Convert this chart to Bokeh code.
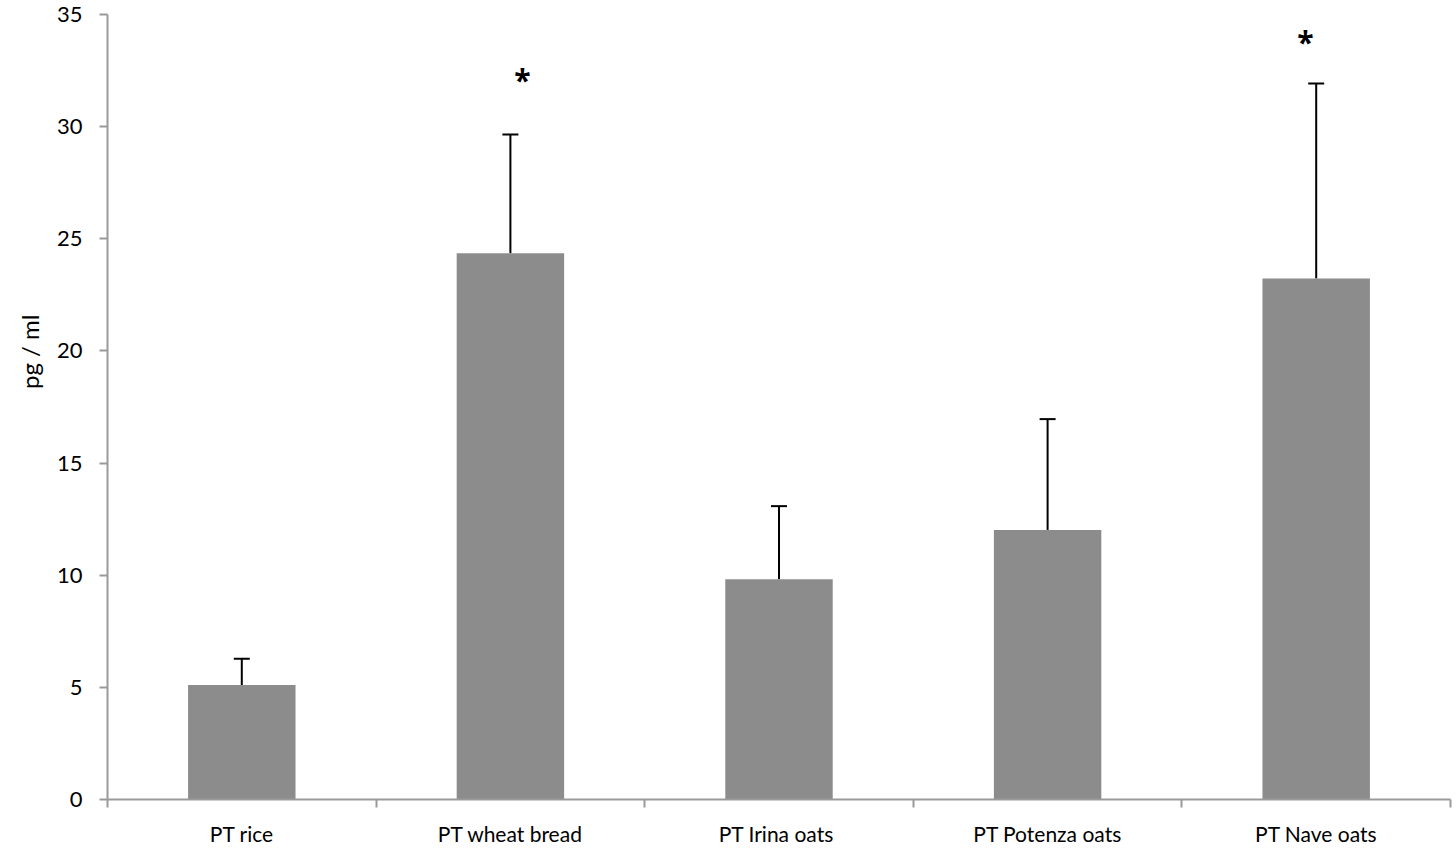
from bokeh.plotting import figure
from bokeh.models import ColumnDataSource, FixedTicker, Whisker, TeeHead, Title
from bokeh.core.properties import value
from bokeh.embed import file_html
from bokeh.resources import INLINE

categories = ["PT rice", "PT wheat bread", "PT  Irina oats", "PT Potenza oats", "PT Nave oats"]
means = [5.1, 24.35, 9.82, 12.02, 23.23]
err_tops = [6.27, 29.65, 13.08, 16.96, 31.92]
sig_marks = ["", "*", "", "", "*"]
sig_x = [None, 1.545, None, None, 4.46]
sig_y = [None, 32.1, None, None, 33.8]
y_ticks = [0, 5, 10, 15, 20, 25, 30, 35]

xs = [i + 0.5 for i in range(len(categories))]
src = ColumnDataSource(dict(x=xs, top=means, upper=err_tops))

FONT = "Lato"

p = figure(width=1456, height=852, output_backend="svg", toolbar_location=None,
           x_range=(0, len(categories)), y_range=(0, 35),
           min_border_left=107, min_border_right=6, min_border_top=14, min_border_bottom=53)
p.outline_line_color = None
p.grid.grid_line_color = None

p.vbar(x="x", top="top", width=0.4, bottom=0, source=src, fill_color="#8c8c8c", line_color=None)

w = Whisker(base="x", upper="upper", lower="top", source=src, line_color="black", line_width=2,
            upper_head=TeeHead(size=16, line_color="black", line_width=2), lower_head=None)
p.add_layout(w)

idx = [i for i in range(len(categories)) if sig_marks[i]]
p.text(x=[sig_x[i] for i in idx], y=[sig_y[i] for i in idx], text=[sig_marks[i] for i in idx],
       text_align="center", text_baseline="middle",
       text_font=value("Open Sans"), text_font_size="30px", text_font_style="bold", text_color="black")

# x axis: labels at centres, ticks at boundaries
p.xaxis.ticker = FixedTicker(ticks=xs, minor_ticks=list(range(len(categories) + 1)))
p.xaxis.major_label_overrides = {x: c for x, c in zip(xs, categories)}
p.xaxis.major_tick_out = 0
p.xaxis.major_tick_in = 0
p.xaxis.minor_tick_out = 8
p.xaxis.minor_tick_in = 0
p.xaxis.minor_tick_line_color = "#9a9a9a"
p.xaxis.minor_tick_line_width = 2
p.xaxis.axis_line_color = "#9a9a9a"
p.xaxis.axis_line_width = 2
p.xaxis.major_label_standoff = 13
p.xaxis.major_label_text_font = FONT
p.xaxis.major_label_text_font_size = "21px"
p.xaxis.major_label_text_color = "black"

p.yaxis.ticker = FixedTicker(ticks=y_ticks, minor_ticks=[])
p.yaxis.major_tick_out = 8
p.yaxis.major_tick_in = 0
p.yaxis.major_tick_line_color = "#9a9a9a"
p.yaxis.major_tick_line_width = 2
p.yaxis.axis_line_color = "#9a9a9a"
p.yaxis.axis_line_width = 2
p.yaxis.major_label_standoff = 17
p.yaxis.major_label_text_font = FONT
p.yaxis.major_label_text_font_size = "22px"
p.yaxis.major_label_text_color = "black"

ylab = Title(text="pg / ml", align="right", offset=300, text_font=FONT,
             text_font_size="24px", text_font_style="normal", text_color="black", standoff=20)
p.add_layout(ylab, "left")

open("out.html", "w").write(file_html(p, INLINE))
